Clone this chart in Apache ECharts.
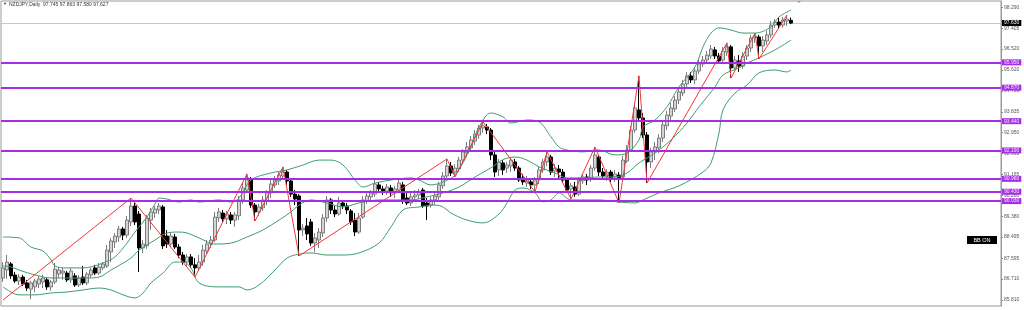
<!DOCTYPE html>
<html><head><meta charset="utf-8">
<script src="https://cdn.jsdelivr.net/npm/echarts@6/dist/echarts.min.js"></script>
<style>html,body{margin:0;padding:0;background:#fff}#c{width:1024px;height:310px}</style>
</head><body><div id="c"></div>
<script>
// ---------- data ----------
const symbolName = 'NZDJPY,Daily';
const lastQuote = [97.745, 97.863, 97.580, 97.627]; // O H L C of last bar
const slotCount = 250; // bars that fit the window incl. right shift

const opens = [86.75,87.09,87.35,86.88,86.62,86.79,86.54,86.28,86.37,86.49,
86.58,86.67,86.37,86.58,86.92,86.96,86.96,86.67,86.84,86.45,
86.79,86.54,86.88,87.18,86.96,87.18,87.26,87.86,88.29,88.50,
88.84,88.58,89.14,89.82,89.48,88.03,88.12,89.22,89.52,89.65,
89.78,88.54,88.20,88.50,88.07,87.73,87.43,87.65,87.31,87.18,
87.43,87.90,88.20,88.37,89.31,89.52,89.27,89.44,89.22,89.40,
90.08,90.50,90.93,89.86,89.57,89.74,90.04,90.38,90.72,90.89,
91.10,91.27,90.89,90.33,90.25,88.80,88.97,89.14,88.24,88.37,
88.67,89.31,90.08,89.65,89.48,89.95,89.82,89.61,89.22,88.71,
89.35,90.04,90.21,90.33,90.72,90.55,90.42,90.59,90.38,90.50,
90.72,90.16,89.95,90.21,90.29,90.50,89.95,89.86,90.08,90.21,
90.68,91.10,91.53,91.27,91.40,91.78,92.08,92.30,92.59,92.85,
93.15,93.19,93.06,92.00,91.36,91.66,91.44,91.53,91.70,91.44,
91.02,90.80,90.85,90.72,90.93,91.36,91.70,91.91,91.32,91.40,
91.27,90.93,90.55,90.63,90.33,90.89,91.06,90.97,91.44,91.91,
91.27,91.10,91.27,91.06,91.14,91.06,91.74,92.21,93.06,93.92,
93.58,92.85,91.70,92.13,92.30,92.72,93.24,93.66,93.96,94.34,
94.64,95.03,95.37,95.20,95.58,95.88,96.05,96.22,96.48,96.22,
96.05,96.39,96.61,95.71,96.01,95.79,96.22,96.56,96.99,97.03,
96.65,96.86,97.12,97.54,97.67,97.54,97.71,97.745];
const closes = [87.18,87.43,86.84,86.62,86.79,86.49,86.32,86.54,86.62,86.71,
86.75,86.37,86.58,87.13,87.09,87.05,86.67,87.05,86.45,86.75,
86.54,86.92,87.09,86.96,87.22,87.35,87.94,88.33,88.54,88.84,
88.58,89.22,89.82,89.14,88.03,88.20,89.31,89.57,89.69,89.82,
88.12,88.20,88.54,88.07,87.73,87.43,87.65,87.31,87.18,87.43,
87.94,88.20,88.37,89.35,89.57,89.27,89.48,89.22,89.44,90.08,
90.59,91.02,89.86,89.57,89.78,90.08,90.38,90.76,90.93,91.14,
91.27,90.89,90.33,90.12,88.80,88.88,88.63,88.24,88.46,88.71,
89.31,90.08,89.65,89.48,89.95,89.82,89.65,89.14,88.71,89.31,
90.08,90.25,90.38,90.76,90.55,90.42,90.63,90.38,90.55,90.80,
90.04,89.95,90.21,90.29,90.42,89.82,89.82,90.08,90.25,90.72,
91.10,91.53,91.23,91.44,91.78,92.13,92.34,92.64,92.89,93.15,
93.24,93.06,92.00,91.27,91.70,91.36,91.57,91.78,91.44,90.93,
90.85,90.93,90.72,90.93,91.36,91.70,91.91,91.27,91.44,91.27,
90.93,90.50,90.68,90.33,90.93,91.06,90.93,91.44,92.00,91.27,
91.10,91.27,91.02,91.19,91.02,91.78,92.21,93.06,94.00,93.58,
92.85,91.70,92.13,92.34,92.72,93.28,93.70,94.00,94.34,94.69,
95.03,95.37,95.20,95.58,95.88,96.05,96.26,96.52,96.22,96.01,
96.43,96.61,95.71,96.05,95.79,96.22,96.56,96.99,97.07,96.65,
96.90,97.12,97.54,97.67,97.54,97.76,97.80,97.627];
const lows = [86.58,86.71,86.71,86.54,86.45,86.41,86.20,85.85,86.15,86.32,
86.32,86.24,86.20,86.49,86.75,86.67,86.58,86.54,86.37,86.37,
86.45,86.45,86.75,86.88,86.88,87.09,87.18,87.43,88.03,88.29,
88.37,88.46,88.97,89.01,87.01,87.82,87.99,88.80,89.31,89.48,
87.99,88.03,88.07,87.99,87.60,87.31,87.26,87.18,86.79,87.05,
87.26,87.77,88.03,88.29,89.14,89.14,89.05,89.05,88.93,89.22,
89.91,90.42,89.74,89.18,89.40,89.61,89.86,90.16,90.59,90.72,
90.93,90.72,90.21,89.86,87.69,88.54,88.37,88.12,87.86,88.03,
88.50,89.14,89.48,89.35,89.40,89.69,89.48,89.01,88.54,88.63,
89.27,89.91,89.99,90.21,90.42,90.29,90.29,90.21,90.16,90.38,
89.91,89.86,89.82,90.08,90.12,89.74,89.22,89.74,89.86,90.08,
90.55,90.93,91.10,91.06,91.27,91.61,91.91,92.13,92.42,92.68,
92.94,92.89,91.78,91.06,91.10,91.14,91.23,91.27,91.32,90.85,
90.72,90.63,90.55,90.42,90.76,91.23,91.53,91.14,91.06,90.97,
90.80,90.38,90.12,90.21,90.25,90.76,90.72,90.85,91.32,91.10,
90.93,90.89,90.85,90.85,89.95,90.93,91.66,92.13,92.94,93.45,
92.72,90.80,91.44,91.78,92.08,92.55,93.06,93.49,93.83,94.17,
94.51,94.86,95.07,95.03,95.45,95.75,95.88,96.09,96.09,95.88,
95.92,96.22,95.28,95.62,95.54,95.67,96.05,96.39,96.78,96.09,
96.39,96.69,96.99,97.42,97.37,97.42,97.50,97.580];
const highs = [87.43,87.73,87.43,87.01,86.92,86.88,86.67,86.62,86.71,86.84,
86.88,86.75,86.67,87.39,87.22,87.18,87.05,87.18,86.96,86.88,
87.26,87.01,87.18,87.31,87.39,87.43,88.16,88.46,88.67,88.97,
88.93,89.40,90.16,89.95,89.61,88.37,89.44,89.74,89.82,89.95,
89.86,88.80,88.71,88.63,88.20,87.86,87.77,87.77,87.60,87.73,
88.16,88.37,88.54,89.57,89.74,89.65,89.61,89.57,89.57,90.25,
90.80,91.19,91.06,89.95,89.91,90.25,90.50,90.93,91.10,91.27,
91.49,91.36,91.02,90.50,90.33,89.05,89.31,89.27,88.67,88.88,
89.48,90.25,90.16,89.82,90.21,90.08,89.95,89.69,89.52,89.52,
90.25,90.38,90.50,91.02,90.85,90.68,90.76,90.72,90.68,90.93,
90.85,90.38,90.38,90.50,90.55,90.59,90.16,90.21,90.38,90.85,
91.27,91.83,91.70,91.61,91.91,92.25,92.55,92.81,93.06,93.28,
93.41,93.32,93.15,92.13,91.83,91.78,91.70,91.91,91.83,91.53,
91.19,91.10,90.97,91.06,91.49,91.83,92.13,92.00,91.61,91.57,
91.40,91.02,90.80,90.85,91.06,91.19,91.19,91.57,92.34,92.00,
91.44,91.40,91.36,91.36,91.27,91.96,92.42,93.24,94.22,95.37,
93.79,92.98,92.30,92.55,92.89,93.49,93.88,94.22,94.51,94.90,
95.20,95.54,95.54,95.75,96.05,96.22,96.43,96.69,96.61,96.35,
96.61,96.78,96.69,96.22,96.26,96.39,96.69,97.12,97.20,97.12,
97.07,97.29,97.71,97.80,97.84,97.88,97.97,97.863];

// ZigZag vertices (bar index, price)
const zigIndex = [0,32,48,61,63,70,74,111,113,120,133,136,142,148,154,159,161,181,182,188,189,196];
const zigValue = [85.81,90.16,86.79,91.19,89.18,91.49,87.69,91.83,91.06,93.41,90.42,92.13,90.12,92.34,89.95,95.37,90.80,96.78,95.28,97.20,96.09,97.97];

// Bollinger bands (bar index, price)
const bbUpperIndex = [0,4,7,10,12,13,16,20,22,25,28,31,33,36,38,39,41,44,47,49,54,57,59,62,67,71,75,79,82,85,88,90,93,97,102,104,107,110,113,117,119,122,125,127,131,134,137,139,141,145,149,153,156,159,160,163,166,169,173,175,177,179,182,185,188,192,194,197];
const bbUpperValue = [88.50,88.46,88.07,87.90,87.52,87.26,87.18,87.18,87.22,87.39,87.65,88.24,88.71,89.35,89.91,90.16,90.12,89.99,90.08,89.99,90.08,89.99,90.16,90.93,91.23,91.36,91.57,91.78,91.78,91.57,90.93,90.63,90.80,90.93,91.02,90.93,90.72,90.85,91.14,92.34,93.19,93.79,93.62,93.36,93.49,93.41,92.77,92.34,92.21,92.13,92.21,92.00,92.08,92.64,93.19,93.49,94.05,94.90,95.75,96.61,97.20,97.42,97.33,97.20,97.20,97.46,97.89,98.18];
const bbMiddleIndex = [0,2,4,8,12,16,21,24,27,32,34,38,41,44,46,49,53,57,61,65,69,72,74,77,81,85,89,94,98,102,106,110,114,118,122,125,128,131,134,138,141,145,149,153,156,159,163,167,171,174,178,180,184,186,189,193,197];
const bbMiddleValue = [87.26,87.22,87.09,86.88,86.75,86.75,86.75,86.79,87.09,87.60,87.94,88.37,88.67,88.71,88.67,88.46,88.20,88.24,88.50,88.80,89.22,89.57,89.86,90.08,89.95,89.78,89.95,90.08,90.08,90.08,90.21,90.38,90.63,91.06,91.45,91.80,91.91,91.78,91.49,91.23,91.02,91.02,91.06,91.06,91.23,91.66,92.08,92.64,93.36,94.05,94.90,95.41,95.71,95.92,96.14,96.48,96.90];
const bbLowerIndex = [0,2,4,8,12,16,20,24,27,30,33,35,37,40,43,45,47,49,54,59,61,64,68,71,74,77,81,85,89,94,97,100,104,108,110,112,116,120,124,126,128,130,133,135,137,139,142,145,149,154,158,160,164,169,175,177,179,180,183,186,189,193,196,197];
const bbLowerValue = [86.37,86.15,86.03,86.03,86.11,86.15,86.24,86.32,86.24,86.03,85.90,86.11,86.54,86.96,87.43,87.43,87.18,86.54,86.37,86.37,86.24,86.45,87.09,87.60,87.77,87.82,87.73,87.73,87.82,88.24,88.93,89.65,89.78,89.86,89.78,89.52,89.22,89.10,89.48,89.95,90.50,90.59,90.38,90.00,90.08,90.38,90.08,90.08,90.08,89.99,89.95,90.08,90.38,90.68,91.27,91.66,92.94,93.92,94.64,94.98,95.50,95.62,95.54,95.62];

// Horizontal levels and axis labels
const levelValues = [95.949, 94.874, 93.437, 92.187, 90.985, 90.428, 90.032];
const yTickValues = [98.290, 97.405, 96.520, 95.620, 94.735, 93.835, 92.950, 92.065, 91.165, 90.280, 89.380, 88.495, 87.595, 86.710, 85.810];
const priceAxisMin = 85.555, priceAxisMax = 98.567;

// ---------- chart ----------
const chart = echarts.init(document.getElementById('c'), null, {renderer: 'canvas'});
const slots = Array.from({length: slotCount}, (_, i) => 'B' + i);
const candleData = opens.map((o, i) => [o, closes[i], lows[i], highs[i]]);
const pairs = (idx, val) => idx.map((x, k) => [x, val[k]]);
const FONT = 'Liberation Sans, Arial, sans-serif';
const purple = '#a32ee6';
const green = '#3f9e6d';

const bbLine = (name, idx, val) => ({
  name, type: 'line', data: pairs(idx, val), showSymbol: false, smooth: 0.35,
  lineStyle: {color: green, width: 1}, z: 3, silent: true
});

chart.setOption({
  animation: false,
  grid: {left: 1, right: 23, top: 1, bottom: 4, show: true, borderColor: '#9a9a9a', borderWidth: 1},
  xAxis: {type: 'category', data: slots, boundaryGap: true, show: false},
  yAxis: {
    type: 'value', position: 'right', min: priceAxisMin, max: priceAxisMax,
    axisLine: {show: true, lineStyle: {color: '#9a9a9a', width: 1}},
    axisTick: {show: true, length: 2, customValues: yTickValues, lineStyle: {color: '#8a8a8a'}},
    axisLabel: {customValues: yTickValues, formatter: v => v.toFixed(3), fontSize: 5, color: '#555', margin: 3, fontFamily: FONT},
    splitLine: {show: false}
  },
  series: [
    {
      name: 'price', type: 'candlestick', data: candleData, barWidth: 3, z: 2,
      itemStyle: {color: '#d4d4d4', color0: '#000000', borderColor: '#7c7c7c', borderColor0: '#000000', borderWidth: 1},
      markLine: {
        silent: true, symbol: ['none', 'none'], z: 1,
        lineStyle: {color: '#c8c8c8', width: 1, type: 'solid'},
        label: {position: 'end', distance: 1, formatter: p => p.value.toFixed(3), color: '#fff', backgroundColor: '#000',
          fontSize: 5, fontFamily: FONT, padding: [1, 2, 0, 2]},
        data: [{yAxis: lastQuote[3]}]
      }
    },
    bbLine('BB upper', bbUpperIndex, bbUpperValue),
    bbLine('BB middle', bbMiddleIndex, bbMiddleValue),
    bbLine('BB lower', bbLowerIndex, bbLowerValue),
    {
      name: 'ZigZag', type: 'line', data: pairs(zigIndex, zigValue), showSymbol: false,
      lineStyle: {color: '#f23535', width: 1}, z: 4, silent: true
    },
    {
      name: 'levels', type: 'line', data: [], z: 5,
      markLine: {
        silent: true, symbol: ['none', 'none'],
        lineStyle: {color: purple, width: 2, type: 'solid'},
        label: {position: 'end', distance: 1, formatter: p => p.value.toFixed(3), color: '#f4e8ff', backgroundColor: purple,
          fontSize: 5, fontFamily: FONT, padding: [1, 2, 0, 2]},
        data: levelValues.map(v => ({yAxis: v}))
      }
    }
  ],
  graphic: [
    {type: 'text', left: 3, top: 2, style: {text: '\u25BC', fontSize: 4, fill: '#333', fontFamily: FONT}},
    {type: 'text', left: 9, top: 2, style: {text: symbolName + '  ' + lastQuote.map(v => v.toFixed(3)).join(' '), fontSize: 5, fill: '#333', fontFamily: FONT}},
    {type: 'polygon', shape: {points: [[797, 1], [801, 1], [799, 3]]}, style: {fill: '#9a9a9a'}},
    {type: 'rect', shape: {x: 967, y: 236, width: 30, height: 8}, style: {fill: '#000'}},
    {type: 'text', x: 982, y: 240, style: {text: 'BB ON', fontSize: 5.5, fill: '#fff', fontFamily: FONT, align: 'center', verticalAlign: 'middle'}}
  ]
});
</script></body></html>
